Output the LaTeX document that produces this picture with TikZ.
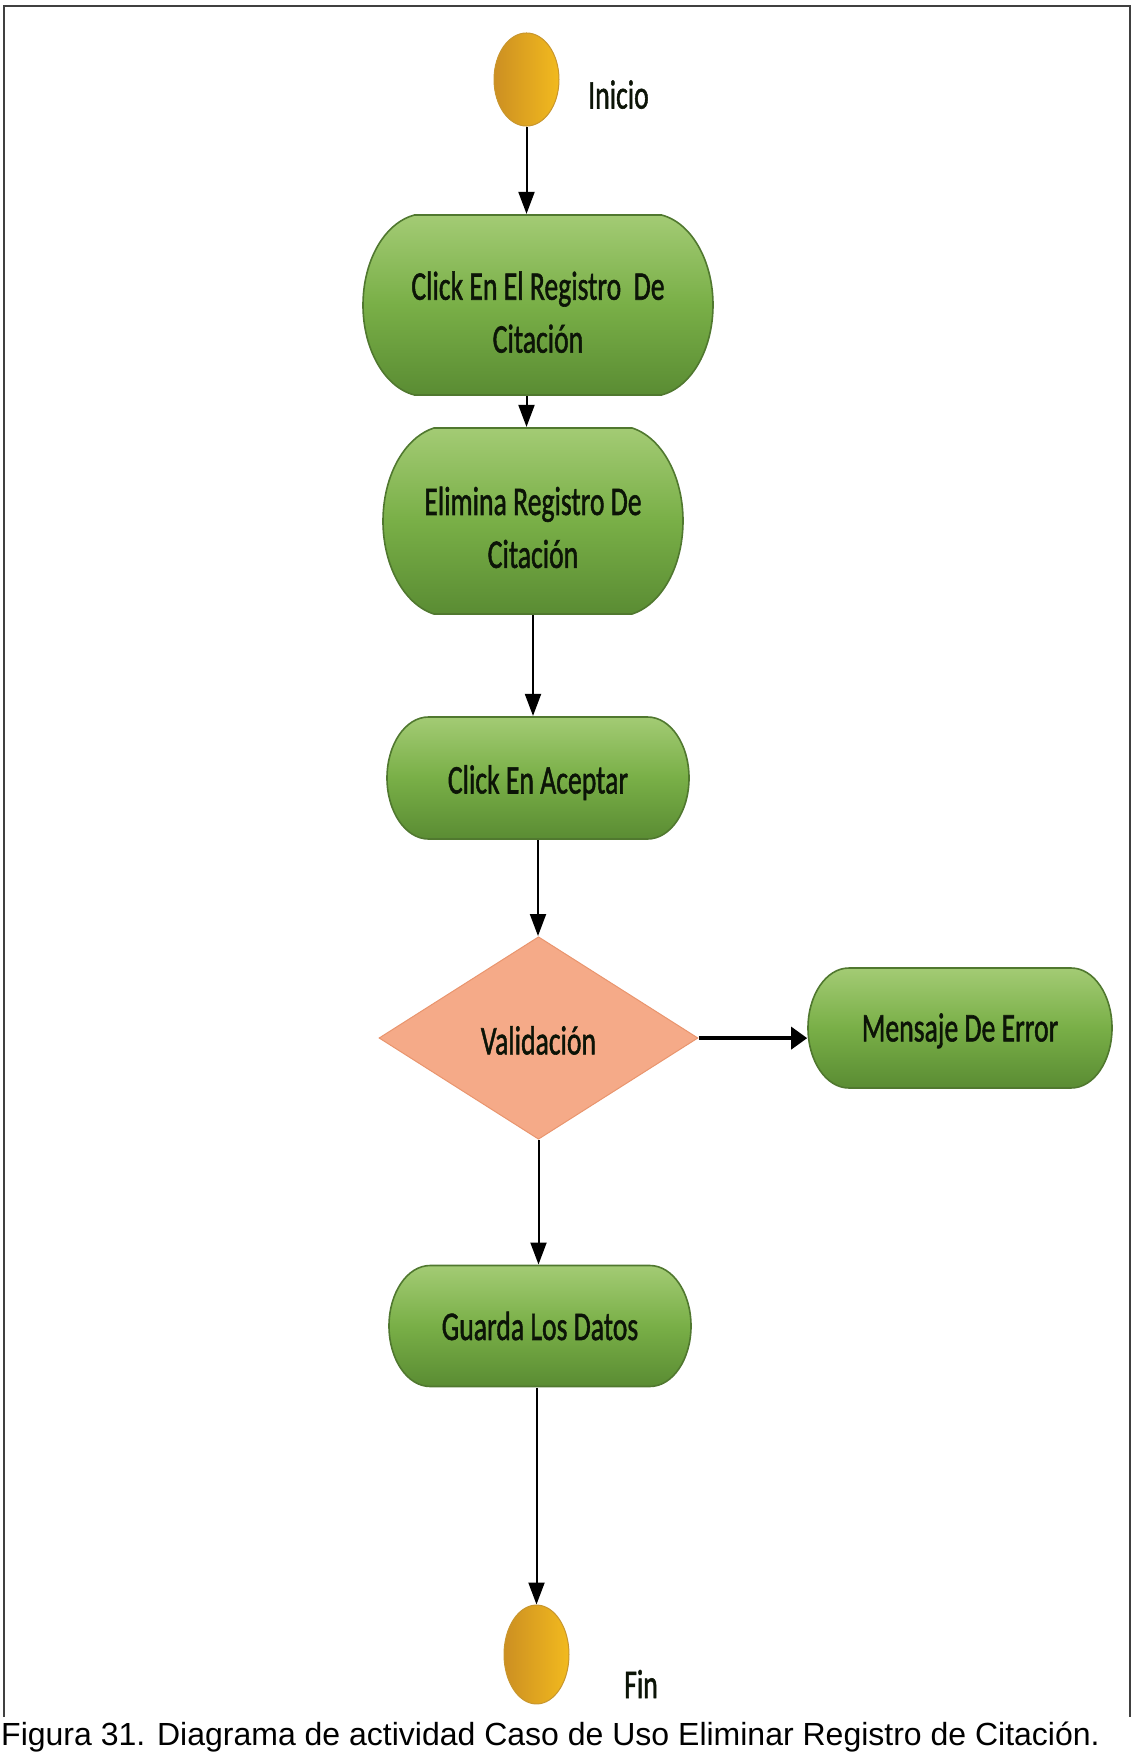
\documentclass[tikz,border=0pt]{standalone}
\usepackage{fontspec}
\setmainfont{Carlito}
\newfontfamily\boxface[FakeBold=1.5]{Carlito}
\newfontfamily\captionfont{Liberation Sans}
\usetikzlibrary{shapes.geometric,shapes.misc,arrows.meta}

\definecolor{actTop}{HTML}{A3CB74}
\definecolor{actMid}{HTML}{79AF47}
\definecolor{actBot}{HTML}{5A8C33}
\definecolor{actLine}{HTML}{50782F}
\definecolor{termDark}{HTML}{CC8F22}
\definecolor{termLight}{HTML}{F2BA1E}
\definecolor{termLine}{HTML}{C8962D}
\definecolor{decFill}{HTML}{F5AA88}
\definecolor{decLine}{HTML}{E9956E}
\definecolor{frameGray}{HTML}{404040}
\definecolor{inkText}{HTML}{0C1407}

% invisible strut that pushes a label slightly below the shape's centre
\newcommand\lowstrut[1]{\rule{0pt}{#1}}

\tikzset{
  boxfont/.style={font=\boxface\fontsize{27.7}{36}\selectfont},
  activity/.style={rounded rectangle, draw=actLine, line width=1.6pt,
    top color=actTop, bottom color=actBot, middle color=actMid,
    text=inkText, boxfont, align=center, inner sep=0pt},
  terminal/.style={ellipse, draw=termLine, line width=1pt,
    left color=termDark, right color=termLight, inner sep=0pt},
  decision/.style={diamond, draw=decLine, line width=1pt, fill=decFill,
    inner sep=0pt, text=inkText, boxfont},
  tag/.style={anchor=base west, inner sep=0pt, text=inkText, boxfont},
  flow/.style={draw=black, line width=2pt, -{Triangle[length=22pt,width=16pt]}},
  flowbold/.style={draw=black, line width=3.5pt, -{Triangle[length=16pt,width=22pt]}},
  framing/.style={draw=frameGray, line width=1.6pt},
}

\begin{document}
\begin{tikzpicture}[x=1pt, y=-1pt]
\useasboundingbox (0,0) rectangle (1133,1753);

% page frame and figure caption
\draw[framing] (4,1717) |- (1130,6) -- (1130,1717);
\node[anchor=base west, inner sep=0pt, font=\captionfont\fontsize{32}{36}\selectfont]
  (caption) at (1,1745) {Figura 31. Diagrama de actividad Caso de Uso Eliminar Registro de Citación.};

% activity diagram, drawn vertically stretched
\begin{scope}[yscale=1.47, y=-0.680272pt, every node/.append style={transform shape}]
  \node[terminal, minimum width=65pt, minimum height=63.3pt] (ini) at (526.5,79.5) {};
  \node[tag] (iniTag) at (588,108.5) {Inicio};

  \node[activity, rounded rectangle arc length=160, minimum width=350pt, minimum height=122.4pt]
    (click) at (538,305) {\lowstrut{29pt}Click En El Registro\ \ De\\Citación};
  \node[activity, rounded rectangle arc length=155, minimum width=300pt, minimum height=126.5pt]
    (elim) at (533,521) {\lowstrut{28pt}Elimina Registro De\\Citación};
  \node[activity, minimum width=302pt, minimum height=83pt]
    (accept) at (538,778) {\lowstrut{25.5pt}Click En Aceptar};
  \node[decision, minimum width=319pt, minimum height=105.4pt]
    (valid) at (538.5,1038) {\lowstrut{22.5pt}Validación};
  \node[activity, minimum width=304pt, minimum height=81.6pt]
    (error) at (960,1028) {\lowstrut{23pt}Mensaje De Error};
  \node[activity, minimum width=302pt, minimum height=82.3pt]
    (save) at (540,1326) {Guarda Los Datos};
  \node[terminal, minimum width=65pt, minimum height=67.3pt] (fin) at (536.5,1654.5) {};
  \node[tag] (finTag) at (624,1698) {Fin};

  % control flow
  \draw[flow] (ini.south) -- (ini.south |- click.north);
  \draw[flow] (click.south -| ini.south) -- (elim.north -| ini.south);
  \draw[flow] (elim.south) -- (elim.south |- accept.north);
  \draw[flow] (accept.south) -- (accept.south |- valid.north);
  \draw[flowbold] (valid.east) -- (valid.east -| error.west);
  \draw[flow] (valid.south) -- (valid.south |- save.north);
  \draw[flow] (save.south -| fin.north) -- (fin.north);
\end{scope}
\end{tikzpicture}
\end{document}
